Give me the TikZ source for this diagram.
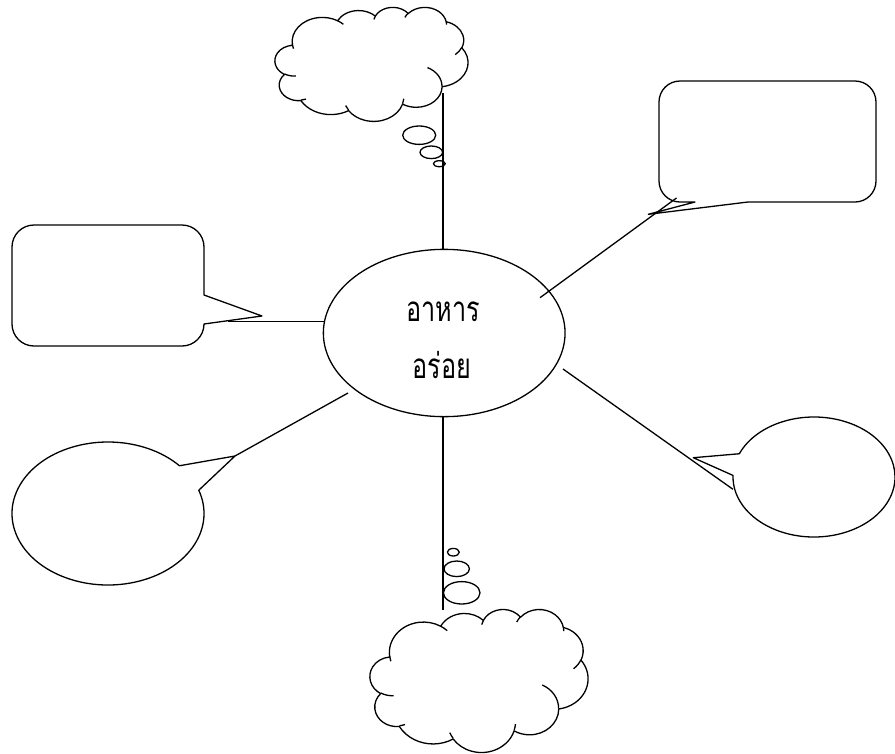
\documentclass[tikz,border=0pt]{standalone}
\usepackage{fontspec}
\newfontfamily\thaifont[Script=Thai,FakeStretch=0.72]{Loma}
\usetikzlibrary{shapes.geometric}
\pgfmathdeclarefunction{vpar}{3}{%
  \begingroup
    \pgfmathsetmacro\vptmp{atan2((#2)*sin(#1),(#3)*cos(#1))}%
    \pgfmathparse{\vptmp+360*round(((#1)-\vptmp)/360)}%
    \pgfmathsmuggle\pgfmathresult
  \endgroup}
\newcommand\carc[4]{\pgfextra{\pgfmathsetmacro\caS{vpar(#3,#1,#2)}\pgfmathsetmacro\caE{vpar(#3+#4,#1,#2)}\pgfmathsetmacro\caD{\caE-\caS}} arc[start angle=\caS, delta angle=\caD, x radius=#1, y radius=#2]}
\newcommand\officecloud[4]{%
 \begin{scope}[shift={(#1,#2)},xscale=#3/432,yscale=#4/432]
  \draw (39.00,143.70)
    \carc{67.53}{91.90}{-190.4875}{123.7805}
    \carc{53.33}{72.67}{-144.1024}{89.9452}
    \carc{43.65}{59.45}{-145.8079}{99.7230}
    \carc{48.57}{65.95}{-130.9861}{117.2417}
    \carc{53.33}{72.73}{-78.7089}{109.0269}
    \carc{67.75}{92.20}{-46.2673}{130.2690}
    \carc{57.85}{78.67}{0.6250}{114.0333}
    \carc{67.52}{92.15}{22.4516}{115.1726}
    \carc{77.20}{105.43}{66.2426}{75.7110}
    \carc{43.60}{59.18}{-274.9421}{146.7356}
    \carc{43.45}{59.45}{-246.8285}{152.5189}
    -- cycle;
  \draw (46.93,261.77) \carc{43.45}{59.45}{86.7420}{26.4295}
    (69.28,348.99) \carc{43.60}{59.18}{73.6105}{11.4475}
    (164.78,390.90) \carc{67.52}{92.15}{137.6242}{14.0811}
    (288.27,347.51) \carc{67.52}{92.15}{6.4533}{15.9984}
    (341.29,229.54) \carc{57.85}{78.67}{-70.2924}{70.9174}
    (417.98,153.54) \carc{53.33}{72.73}{30.3180}{27.7515}
    (383.24,54.26) \carc{48.57}{65.95}{-13.7443}{14.8589}
    (290.78,39.52) \carc{48.57}{65.95}{-149.1815}{18.1954}
    (221.41,47.20) \carc{43.65}{59.45}{-163.4943}{17.6864}
    (140.00,51.92) \carc{67.53}{91.90}{-66.7070}{12.3194}
    (41.27,157.89) \carc{67.53}{91.90}{157.9775}{13.4593};
 \end{scope}}
\begin{document}
\begin{tikzpicture}[x=1pt,y=-1pt,line width=1.3pt,line join=round,
  thaitext/.style={font=\thaifont\fontsize{35}{40}\selectfont,anchor=base,inner sep=0pt}]
\fill[white] (0,0) rectangle (895,753);
\useasboundingbox (0,0) rectangle (895,753);

% centre
\node[draw,ellipse,minimum width=241.7pt,minimum height=167.3pt,inner sep=0pt] (main) at (444.2,333) {};
\node[thaitext] (t1) at (443,321) {อาหาร};
\node[thaitext] (t2) at (442,378) {อร่อย};

% connector end points
\coordinate (mT) at (443,249.5);
\coordinate (mB) at (443,416.5);
\coordinate (mL) at (324,321.7);
\coordinate (mUR) at (540,297.7);
\coordinate (mLL) at (348,393);
\coordinate (mLR) at (563,369);
\coordinate (cT) at (443,93);
\coordinate (cB) at (443,610);
\coordinate (lcEnd) at (228,321.7);
\coordinate (rcEnd) at (676.5,198);
\coordinate (blTip) at (235,456);
\coordinate (roEnd) at (733,489.3);

% top cloud and bubbles
\officecloud{275}{7}{193}{114}
\draw (419.2,135.2) ellipse [x radius=16.5, y radius=9.2];
\draw (431.3,152.3) ellipse [x radius=11.3, y radius=6.3];
\draw (439.3,163.7) ellipse [x radius=6, y radius=3];

% bottom cloud and bubbles
\officecloud{370}{609}{218}{143}
\draw (453.3,552.2) ellipse [x radius=6, y radius=3.8];
\draw (456.7,568.8) ellipse [x radius=12.7, y radius=7.8];
\draw (461.7,592.8) ellipse [x radius=18.3, y radius=11.2];

% right rounded callout
\coordinate (rcTip) at (648.3,214.3);
\draw (680,81) -- (855,81) arc[start angle=270,end angle=360,radius=21]
  -- (876,181) arc[start angle=0,end angle=90,radius=21]
  -- (748,202) -- (rcTip) -- (695,202) -- (680,202)
  arc[start angle=90,end angle=180,radius=21]
  -- (659,102) arc[start angle=180,end angle=270,radius=21] -- cycle;

% left rounded callout
\coordinate (lcTip) at (262,316);
\draw (34,225) -- (182,225) arc[start angle=270,end angle=360,radius=22]
  -- (204,295) -- (lcTip) -- (204,324)
  arc[start angle=0,end angle=90,radius=22]
  -- (34,346) arc[start angle=90,end angle=180,radius=22]
  -- (12,247) arc[start angle=180,end angle=270,radius=22] -- cycle;

% bottom-left oval callout
\coordinate (blc) at (108,513.5);
\draw (blc) ++(-19:96 and 71.5) arc[start angle=-19,end angle=318.1,x radius=96,y radius=71.5]
  -- (blTip) -- cycle;

% right oval callout
\coordinate (roc) at (814,477);
\coordinate (roTip) at (693.3,457.7);
\draw (roc) ++(202.8:81 and 60) arc[start angle=202.8,end angle=541.5,x radius=81,y radius=60]
  -- (roTip) -- cycle;

% connectors
\draw (mT) -- (cT);
\draw (mB) -- (cB);
\draw (mL) -- (lcEnd);
\draw (mUR) -- (rcEnd);
\draw (mLL) -- (blTip);
\draw (mLR) -- (roEnd);
\end{tikzpicture}
\end{document}
